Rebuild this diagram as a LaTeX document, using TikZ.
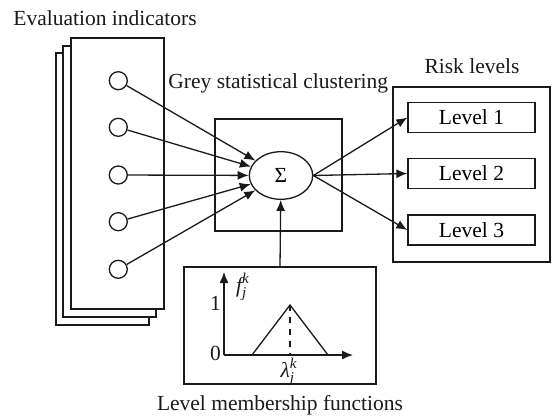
\documentclass[tikz,border=0pt]{standalone}
\usepackage{amsmath}
\usepackage{fontspec}
\setmainfont{Liberation Serif}
\usetikzlibrary{arrows.meta,positioning,shapes.geometric}
\definecolor{ink}{HTML}{1A1A1A}
\tikzset{
  frame/.style={draw=ink,fill=white,line width=0.65pt},
  inputnode/.style={circle,draw=ink,fill=white,line width=0.65pt,
                    minimum size=9pt,inner sep=0pt},
  sumnode/.style={ellipse,draw=ink,fill=white,line width=0.65pt,
                  minimum width=31.7pt,minimum height=23.8pt,inner sep=0pt},
  levelbox/.style={draw=ink,fill=white,line width=0.65pt,
                   minimum width=63.5pt,minimum height=15pt,inner sep=0pt},
  caption/.style={inner sep=0pt,text=ink},
  arrowthin/.style={-{Latex[length=5.5pt,width=4.5pt]},line width=0.65pt,ink},
}

\begin{document}
\begin{tikzpicture}[x=0.5pt,y=-0.5pt,font=\fontsize{10.75}{13}\selectfont]
  \useasboundingbox (0,0) rectangle (552,419);
  % stacked sheets of indicators
  \draw[frame](56,53)rectangle(149,325);
  \draw[frame](63,46)rectangle(156,317);
  \draw[frame](71,38)rectangle(164,309);
  \node[caption,anchor=base west](evtitle)at(13,25){Evaluation indicators};
  % clustering block
  \draw[frame](215,119)rectangle(342,231);
  \node[caption,anchor=base west](gctitle)at(168,88){Grey statistical clustering};
  \node[sumnode](sigma)at(281,175.5){Σ};
  % membership function block
  \draw[frame](184,267)rectangle(376,384);
  \coordinate(mtop)at(280,267);
  \coordinate(org)at(224,355);
  \coordinate(ytip)at(224,272);
  \coordinate(xtip)at(353,355);
  \coordinate(peak)at(290,305);
  \draw[arrowthin](org)--(ytip);
  \draw[arrowthin](org)--(xtip);
  \draw[line width=0.65pt,ink](252,355)--(peak)--(328,355);
  \draw[line width=0.65pt,ink,dashed](peak)--(290,355);
  \node[caption](one)at(215.5,303){1};
  \node[caption](zero)at(215.5,353){0};
  \node[caption](fjk)at(243,287){$\textit{f}_{\textit{j}}^{\textit{k}}$};
  \node[caption](ljk)at(289,372){$\textit{λ}_{\textit{j}}^{\textit{k}}$};
  \node[caption,anchor=base](mftitle)at(280,410){Level membership functions};
  % risk levels block
  \draw[frame](393,87)rectangle(550,262);
  \node[caption,anchor=base](rltitle)at(472,73){Risk levels};
  \node[levelbox](lv1)at(471.5,117.5){Level 1};
  \node[levelbox](lv2)at(471.5,173.5){Level 2};
  \node[levelbox](lv3)at(471.5,230){Level 3};
  % inputs
  \foreach \i/\y in {1/80.7,2/127.3,3/175,4/221.7,5/269.3}{
    \node[inputnode](c\i)at(118.3,\y){};
    \draw[arrowthin](c\i)--(sigma);
  }
  \draw[arrowthin](mtop)--(sigma);
  \foreach \i in {1,2,3}
    \draw[arrowthin](sigma.east)--(lv\i.west);
\end{tikzpicture}
\end{document}
